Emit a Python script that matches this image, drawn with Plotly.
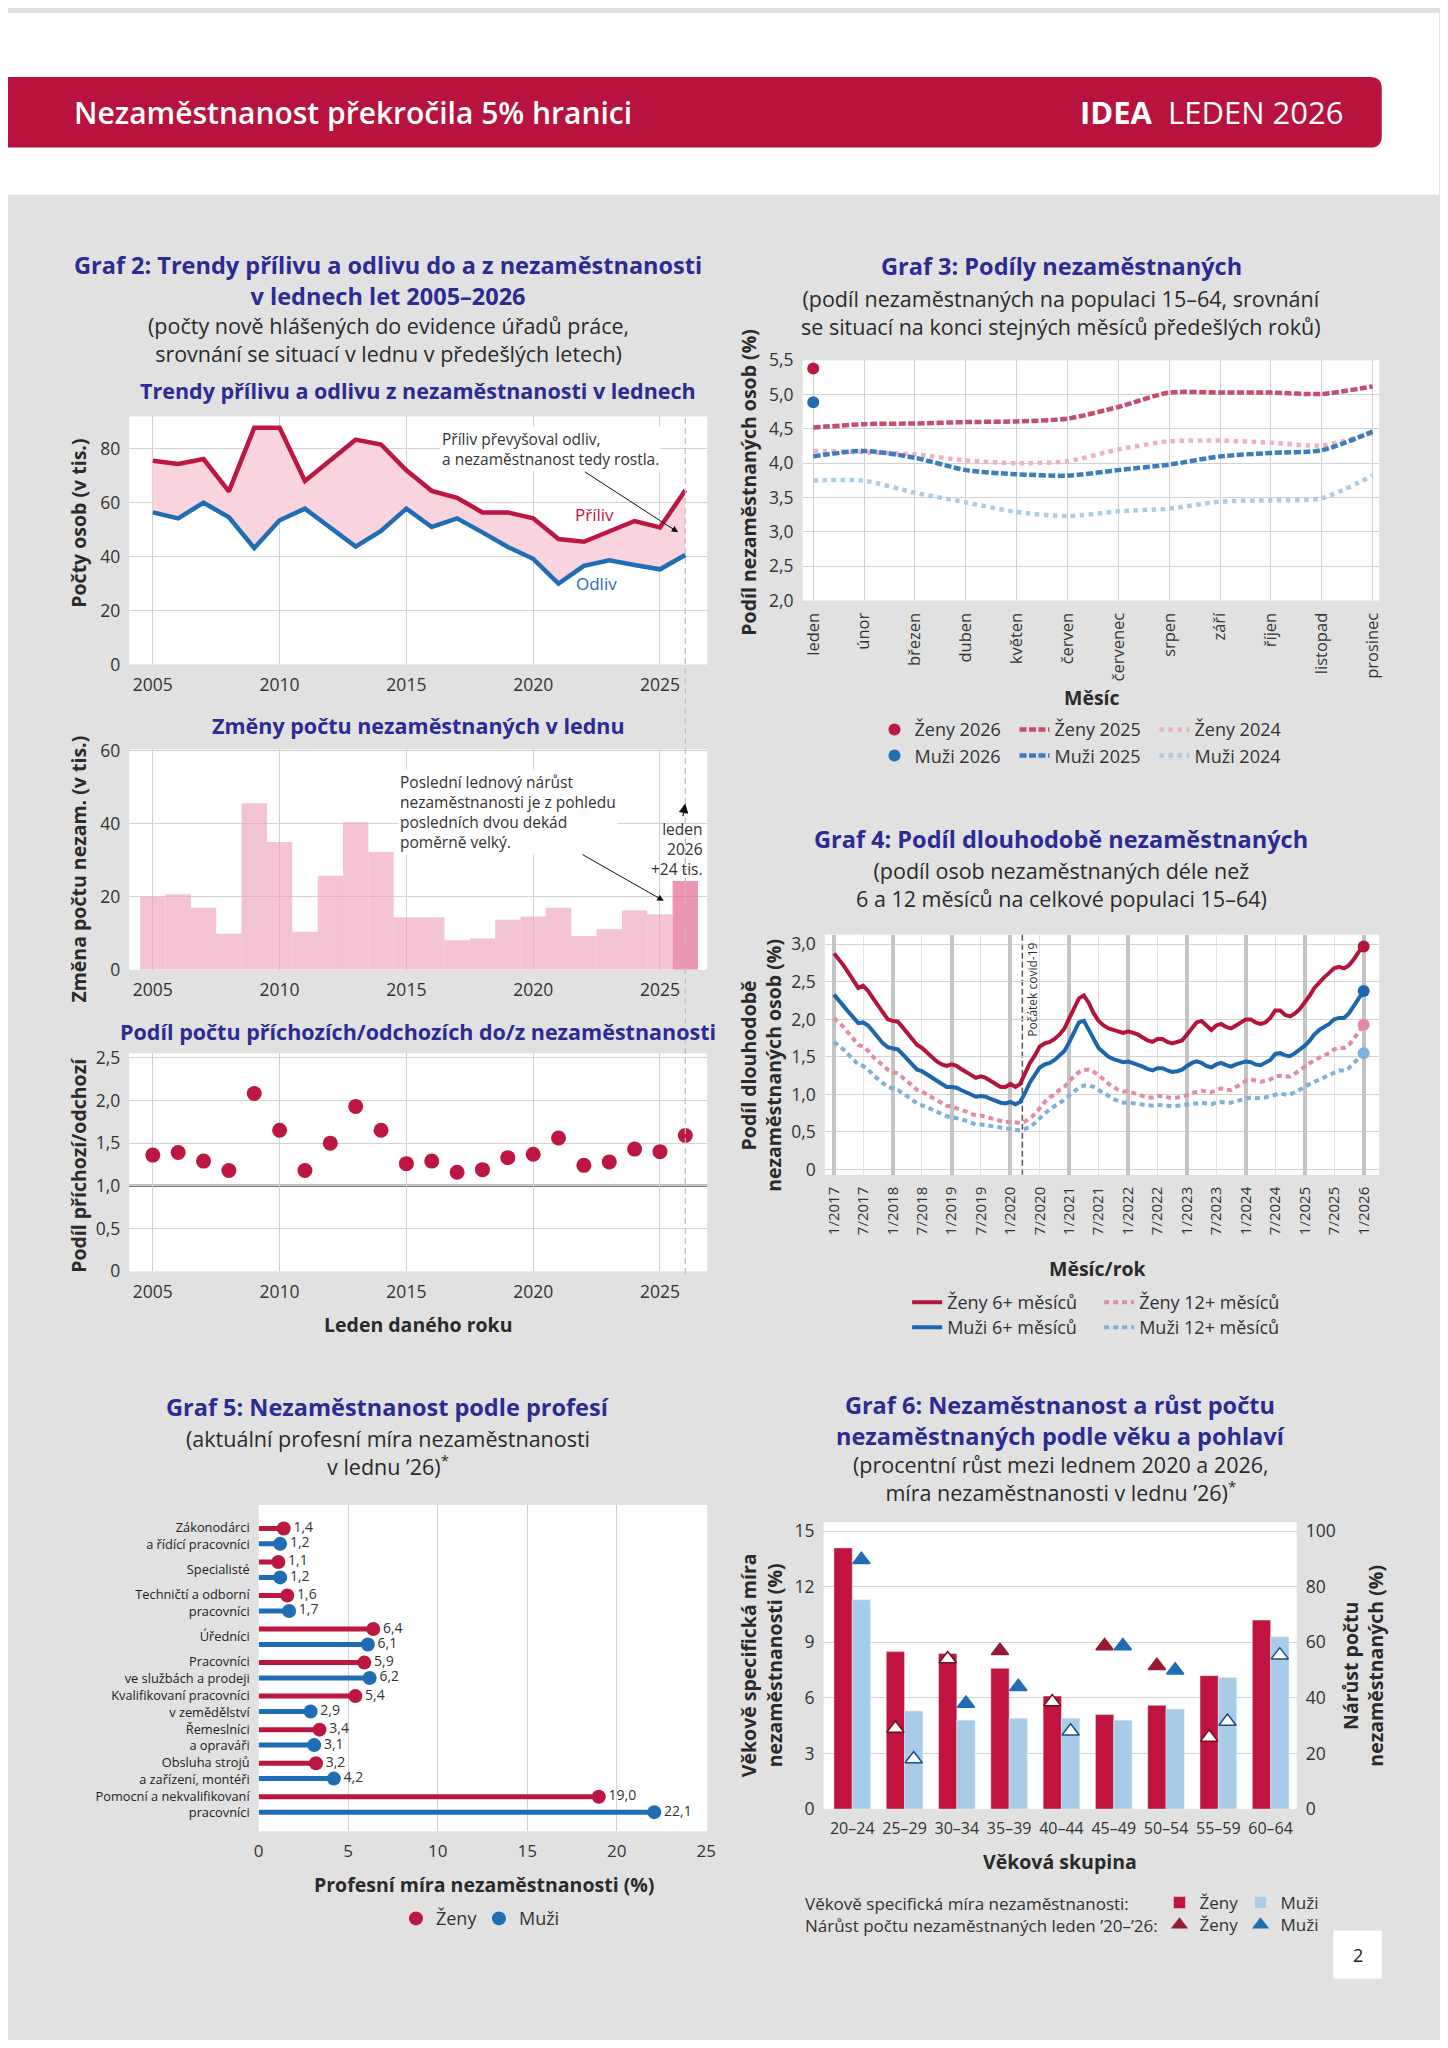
import plotly.graph_objects as go
from datetime import date

# ---------------- Graf 2 data ----------------
years = list(range(2005, 2027))
year_ticks = [2005, 2010, 2015, 2020, 2025]
inflow = [75.6, 74.4, 76.2, 64.2, 87.8, 87.8, 68.1, 75.7, 83.4, 81.6, 72.0, 64.4,
          61.8, 56.4, 56.4, 54.2, 46.5, 45.5, 49.5, 53.2, 50.8, 64.6]
outflow = [56.4, 54.2, 60.0, 54.6, 43.2, 53.5, 57.8, 50.8, 43.7, 49.5, 57.8, 51.0,
           54.2, 49.0, 43.6, 39.2, 30.0, 36.6, 38.6, 36.9, 35.3, 40.6]
jan_change = [20.0, 20.7, 17.0, 9.9, 45.6, 35.0, 10.4, 25.8, 40.4, 32.3, 14.4, 14.4,
              8.1, 8.6, 13.7, 14.6, 17.0, 9.3, 11.1, 16.3, 15.2, 24.3]
in_out_ratio = [1.36, 1.39, 1.29, 1.18, 2.08, 1.65, 1.18, 1.50, 1.93, 1.65, 1.26, 1.29,
                1.16, 1.19, 1.33, 1.37, 1.56, 1.24, 1.28, 1.43, 1.40, 1.59]
ratio_ticks = [0, 0.5, 1.0, 1.5, 2.0, 2.5]
ratio_ticktext = ["0", "0,5", "1,0", "1,5", "2,0", "2,5"]

# ---------------- Graf 3 data ----------------
months_cz = ["leden", "únor", "březen", "duben", "květen", "červen", "červenec",
             "srpen", "září", "říjen", "listopad", "prosinec"]
women_2026 = [5.38]
men_2026 = [4.89]
women_2025 = [4.52, 4.57, 4.58, 4.60, 4.61, 4.65, 4.82, 5.03, 5.03, 5.03, 5.01, 5.12]
women_2024 = [4.18, 4.16, 4.13, 4.04, 4.00, 4.03, 4.20, 4.32, 4.33, 4.30, 4.26, 4.44]
men_2025 = [4.10, 4.18, 4.08, 3.90, 3.84, 3.82, 3.90, 3.98, 4.10, 4.15, 4.19, 4.46]
men_2024 = [3.75, 3.745, 3.57, 3.43, 3.29, 3.23, 3.30, 3.34, 3.44, 3.46, 3.49, 3.82]

# ---------------- Graf 4 data (monthly, 1/2017 - 1/2026) ----------------
women_6m = [2.88, 2.80, 2.72, 2.62, 2.52, 2.42, 2.45, 2.38, 2.28, 2.18, 2.08, 2.00,
            1.98, 1.97, 1.90, 1.82, 1.74, 1.66, 1.62, 1.56, 1.50, 1.44, 1.40, 1.38,
            1.40, 1.38, 1.34, 1.30, 1.26, 1.22, 1.24, 1.22, 1.18, 1.14, 1.10, 1.10,
            1.14, 1.10, 1.14, 1.28, 1.42, 1.52, 1.64, 1.68, 1.70, 1.74, 1.80, 1.88,
            2.02, 2.16, 2.28, 2.32, 2.22, 2.08, 1.98, 1.92, 1.88, 1.86, 1.84, 1.82,
            1.84, 1.82, 1.80, 1.76, 1.72, 1.70, 1.74, 1.74, 1.70, 1.68, 1.70, 1.72,
            1.80, 1.88, 1.96, 1.98, 1.92, 1.86, 1.92, 1.94, 1.90, 1.88, 1.92, 1.96,
            2.00, 2.00, 1.96, 1.94, 1.96, 2.02, 2.12, 2.12, 2.06, 2.04, 2.08, 2.14,
            2.22, 2.32, 2.42, 2.50, 2.56, 2.62, 2.68, 2.70, 2.68, 2.72, 2.80, 2.90,
            2.97]
men_6m = [2.33, 2.26, 2.18, 2.10, 2.02, 1.95, 1.96, 1.92, 1.84, 1.76, 1.68, 1.63,
          1.62, 1.60, 1.54, 1.47, 1.40, 1.33, 1.31, 1.27, 1.22, 1.18, 1.14, 1.10,
          1.10, 1.09, 1.06, 1.03, 1.00, 0.97, 0.98, 0.97, 0.94, 0.91, 0.89, 0.88,
          0.90, 0.87, 0.90, 1.02, 1.16, 1.26, 1.36, 1.40, 1.42, 1.46, 1.52, 1.58,
          1.70, 1.84, 1.96, 1.98, 1.86, 1.72, 1.62, 1.56, 1.50, 1.47, 1.45, 1.43,
          1.44, 1.42, 1.40, 1.37, 1.34, 1.32, 1.35, 1.35, 1.32, 1.30, 1.31, 1.33,
          1.38, 1.42, 1.44, 1.42, 1.38, 1.36, 1.40, 1.42, 1.39, 1.37, 1.40, 1.42,
          1.44, 1.43, 1.40, 1.39, 1.42, 1.46, 1.54, 1.55, 1.52, 1.51, 1.55, 1.60,
          1.65, 1.72, 1.80, 1.86, 1.90, 1.94, 2.00, 2.02, 2.02, 2.08, 2.18, 2.28,
          2.38]
women_12m = [2.02, 1.96, 1.90, 1.82, 1.74, 1.66, 1.64, 1.58, 1.50, 1.44, 1.38, 1.33,
             1.30, 1.28, 1.23, 1.18, 1.12, 1.06, 1.04, 1.00, 0.96, 0.92, 0.88, 0.85,
             0.84, 0.82, 0.80, 0.77, 0.74, 0.72, 0.72, 0.70, 0.68, 0.66, 0.64, 0.63,
             0.64, 0.63, 0.62, 0.64, 0.68, 0.74, 0.82, 0.90, 0.96, 1.00, 1.06, 1.10,
             1.18, 1.24, 1.30, 1.33, 1.33, 1.30, 1.26, 1.20, 1.14, 1.10, 1.06, 1.04,
             1.04, 1.02, 1.00, 0.98, 0.96, 0.96, 0.98, 0.98, 0.96, 0.95, 0.96, 0.97,
             0.99, 1.02, 1.04, 1.05, 1.04, 1.03, 1.06, 1.08, 1.06, 1.06, 1.10, 1.14,
             1.18, 1.20, 1.18, 1.17, 1.18, 1.20, 1.24, 1.25, 1.24, 1.24, 1.28, 1.32,
             1.37, 1.42, 1.46, 1.49, 1.52, 1.55, 1.60, 1.62, 1.62, 1.66, 1.74, 1.84,
             1.93]
men_12m = [1.70, 1.65, 1.60, 1.53, 1.46, 1.40, 1.38, 1.33, 1.26, 1.20, 1.15, 1.10,
           1.08, 1.06, 1.02, 0.98, 0.93, 0.88, 0.86, 0.83, 0.80, 0.77, 0.74, 0.71,
           0.70, 0.69, 0.67, 0.65, 0.62, 0.60, 0.60, 0.59, 0.57, 0.56, 0.55, 0.54,
           0.54, 0.53, 0.52, 0.54, 0.57, 0.62, 0.69, 0.75, 0.80, 0.84, 0.89, 0.93,
           0.99, 1.04, 1.09, 1.12, 1.12, 1.10, 1.06, 1.02, 0.97, 0.94, 0.91, 0.89,
           0.89, 0.88, 0.87, 0.86, 0.85, 0.85, 0.86, 0.86, 0.85, 0.84, 0.85, 0.86,
           0.87, 0.88, 0.89, 0.89, 0.88, 0.87, 0.89, 0.90, 0.89, 0.89, 0.91, 0.93,
           0.95, 0.96, 0.95, 0.95, 0.96, 0.98, 1.00, 1.01, 1.00, 1.00, 1.03, 1.06,
           1.10, 1.14, 1.17, 1.20, 1.23, 1.26, 1.30, 1.32, 1.32, 1.35, 1.42, 1.49,
           1.55]
lt_ticks = [0, 0.5, 1.0, 1.5, 2.0, 2.5, 3.0]
lt_ticktext = ["0", "0,5", "1,0", "1,5", "2,0", "2,5", "3,0"]
covid_start = date(2020, 3, 15)

# ---------------- Graf 5 data ----------------
professions = ["Zákonodárci<br>a řídící pracovníci", "Specialisté",
               "Techničtí a odborní<br>pracovníci", "Úředníci",
               "Pracovníci<br>ve službách a prodeji",
               "Kvalifikovaní pracovníci<br>v zemědělství", "Řemeslníci<br>a opraváři",
               "Obsluha strojů<br>a zařízení, montéři",
               "Pomocní a nekvalifikovaní<br>pracovníci"]
prof_women = [1.4, 1.1, 1.6, 6.4, 5.9, 5.4, 3.4, 3.2, 19.0]
prof_men = [1.2, 1.2, 1.7, 6.1, 6.2, 2.9, 3.1, 4.2, 22.1]

# ---------------- Graf 6 data ----------------
age_groups = ["20–24", "25–29", "30–34", "35–39", "40–44", "45–49", "50–54", "55–59", "60–64"]
rate_women = [14.1, 8.5, 8.4, 7.6, 6.1, 5.1, 5.6, 7.2, 10.2]
rate_men = [11.3, 5.3, 4.8, 4.9, 4.9, 4.8, 5.4, 7.1, 9.3]
growth_women = [None, 29.0, 54.0, 57.0, 38.5, 58.7, 51.6, 25.8, None]
growth_men = [89.7, 18.0, 38.0, 44.0, 28.0, 58.7, 50.0, 31.5, 55.4]

# ---------------- styling helpers ----------------
FONT = "Open Sans"
DW, DH = 1109.0, 1568.0          # layout grid the positions below are given in
W, H = 1448, 2048
OX, OY, SC = 5.2, 11.6, 0.989    # page framing of the photographed figure
RED = "#bc1742"
BLUE = "#1f6db4"
TITLE_BLUE = "#2b2b93"
BG_GRAY = "#e1e1e1"
GRID = "#d2d2d2"
TXT = "#2a2a2a"


def px(x):
    return ((x * W / DW) - OX) / SC / W


def py(y):
    return 1 - ((y * H / DH) - OY) / SC / H


def dom_x(a, b):
    return [px(a), px(b)]


def dom_y(top, bottom):
    return [py(bottom), py(top)]


fig = go.Figure()

# ---- Graf 2 top: inflow / outflow ----
fig.add_trace(go.Scatter(x=years, y=outflow, mode="lines", line=dict(width=0),
                         showlegend=False, hoverinfo="skip", xaxis="x", yaxis="y"))
fig.add_trace(go.Scatter(x=years, y=inflow, mode="lines", line=dict(width=0),
                         fill="tonexty", fillcolor="#f9d3dd",
                         showlegend=False, hoverinfo="skip", xaxis="x", yaxis="y"))
fig.add_trace(go.Scatter(x=years, y=inflow, name="Příliv", mode="lines",
                         line=dict(color=RED, width=4.5), showlegend=False,
                         xaxis="x", yaxis="y"))
fig.add_trace(go.Scatter(x=years, y=outflow, name="Odliv", mode="lines",
                         line=dict(color=BLUE, width=4.5), showlegend=False,
                         xaxis="x", yaxis="y"))

# ---- Graf 2 middle: January change bars ----
bar_colors = ["rgba(238,160,185,0.62)"] * (len(years) - 1) + ["rgba(230,110,148,0.72)"]
fig.add_trace(go.Bar(x=years, y=jan_change, width=1,
                     marker=dict(color=bar_colors, line=dict(width=0)),
                     showlegend=False, xaxis="x2", yaxis="y2"))

# ---- Graf 2 bottom: ratio dots ----
fig.add_trace(go.Scatter(x=years, y=in_out_ratio, mode="markers",
                         marker=dict(color=RED, size=15), showlegend=False,
                         xaxis="x3", yaxis="y3"))

# ---- Graf 3 ----
g3_lines = [
    (women_2025, "Ženy 2025", "#c64d6c", "7px,2.5px", "legend", 2),
    (women_2024, "Ženy 2024", "#efb1c2", "dot", "legend", 3),
    (men_2025, "Muži 2025", "#3b7dbd", "7px,2.5px", "legend2", 2),
    (men_2024, "Muži 2024", "#abcae6", "dot", "legend2", 3),
]
for vals, name, col, dash, leg, rank in g3_lines:
    fig.add_trace(go.Scatter(x=months_cz[:len(vals)], y=vals, name=name, mode="lines",
                             line=dict(color=col, width=4.5, dash=dash, shape="spline",
                                       smoothing=0.7),
                             legend=leg, legendrank=rank, xaxis="x4", yaxis="y4"))
fig.add_trace(go.Scatter(x=months_cz[:len(women_2026)], y=women_2026, name="Ženy 2026",
                         mode="markers", marker=dict(color=RED, size=12),
                         legend="legend", legendrank=1, xaxis="x4", yaxis="y4"))
fig.add_trace(go.Scatter(x=months_cz[:len(men_2026)], y=men_2026, name="Muži 2026",
                         mode="markers", marker=dict(color=BLUE, size=12),
                         legend="legend2", legendrank=1, xaxis="x4", yaxis="y4"))

# ---- Graf 4 ----
lt_dates = [date(2017 + i // 12, 1 + i % 12, 1) for i in range(len(women_6m))]
lt_tickvals = lt_dates[::6]
lt_ticklabels = [f"{d.month}/{d.year}" for d in lt_tickvals]
g4_lines = [
    (women_12m, "Ženy 12+ měsíců", "#e58aa3", "5px,4px", "legend3", 2),
    (men_12m, "Muži 12+ měsíců", "#7eb0db", "5px,4px", "legend4", 2),
    (women_6m, "Ženy 6+ měsíců", "#b3143c", "solid", "legend3", 1),
    (men_6m, "Muži 6+ měsíců", "#1c66ad", "solid", "legend4", 1),
]
for vals, name, col, dash, leg, rank in g4_lines:
    fig.add_trace(go.Scatter(x=lt_dates, y=vals, name=name, mode="lines",
                             line=dict(color=col, width=4, dash=dash),
                             legend=leg, legendrank=rank, xaxis="x5", yaxis="y5"))
    fig.add_trace(go.Scatter(x=lt_dates[-1:], y=vals[-1:], mode="markers",
                             marker=dict(color=col, size=12), showlegend=False,
                             hoverinfo="skip", xaxis="x5", yaxis="y5"))
# helper axis for the thicker January grid lines
fig.add_trace(go.Scatter(x=lt_dates[:1], y=[None], mode="markers", showlegend=False,
                         hoverinfo="skip", xaxis="x6", yaxis="y5"))

# ---- Graf 5 ----
off = 0.23
for vals, name, col, sign in [(prof_women, "Ženy", RED, -1), (prof_men, "Muži", BLUE, 1)]:
    ys = [i + sign * off for i in range(len(vals))]
    sx, sy = [], []
    for v, yy in zip(vals, ys):
        sx += [0, v, None]
        sy += [yy, yy, None]
    fig.add_trace(go.Scatter(x=sx, y=sy, mode="lines", line=dict(color=col, width=5),
                             showlegend=False, hoverinfo="skip", xaxis="x7", yaxis="y7"))
    fig.add_trace(go.Scatter(x=vals, y=ys, name=name, mode="markers+text",
                             marker=dict(color=col, size=14),
                             texttemplate="%{x:.1f}", textposition="middle right",
                             textfont=dict(size=14, color="#333", family=FONT),
                             legend="legend5", xaxis="x7", yaxis="y7"))

# ---- Graf 6 ----
age_idx = list(range(len(age_groups)))
fig.add_trace(go.Bar(x=age_idx, y=rate_women, name="Ženy", marker=dict(color="#c0143f"),
                     legend="legend6", xaxis="x8", yaxis="y8"))
fig.add_trace(go.Bar(x=age_idx, y=rate_men, name="Muži", marker=dict(color="#a8cce8"),
                     legend="legend6", xaxis="x8", yaxis="y8"))
scale_ratio = 100.0 / 15.0
for vals, bars, name, col, edge, sign in [
        (growth_women, rate_women, "Ženy", "#951a34", "#6e0f24", -1),
        (growth_men, rate_men, "Muži", BLUE, "#174f86", 1)]:
    inside = [g is not None and g / scale_ratio < b for g, b in zip(vals, bars)]
    fills = ["white" if s else col for s in inside]
    lines = [edge if s else col for s in inside]
    fig.add_trace(go.Scatter(x=[i + sign * 0.175 for i in age_idx], y=vals, mode="markers",
                             marker=dict(symbol="triangle-up", size=15, color=fills,
                                         line=dict(color=lines, width=1.5)),
                             showlegend=False, xaxis="x8", yaxis="y9"))
    fig.add_trace(go.Scatter(x=[None], y=[None], name=name, mode="markers",
                             marker=dict(symbol="triangle-up", size=15, color=col),
                             legend="legend7", xaxis="x8", yaxis="y9"))

# ---------------- axes ----------------
tick17 = dict(size=17.5, color="#333", family=FONT)
base = dict(showgrid=True, gridcolor=GRID, gridwidth=1, zeroline=False, showline=False,
            ticks="", fixedrange=True, ticklabelstandoff=8)
year_text = [str(y) for y in year_ticks]
d2x = dom_x(99, 541)
xr2 = [2004.07, 2026.86]

fig.update_layout(
    xaxis=dict(base, domain=d2x, anchor="y", range=xr2, tickvals=year_ticks,
               ticktext=year_text, tickfont=tick17),
    yaxis=dict(base, domain=dom_y(318, 508), anchor="x", range=[0, 92],
               tickvals=[0, 20, 40, 60, 80], tickfont=tick17),
    xaxis2=dict(base, domain=d2x, anchor="y2", range=xr2, tickvals=year_ticks,
                ticktext=year_text, tickfont=tick17),
    yaxis2=dict(base, domain=dom_y(573, 742), anchor="x2", range=[0, 60.4],
                tickvals=[0, 20, 40, 60], tickfont=tick17),
    xaxis3=dict(base, domain=d2x, anchor="y3", range=xr2, tickvals=year_ticks,
                ticktext=year_text, tickfont=tick17),
    yaxis3=dict(base, domain=dom_y(806, 973), anchor="x3", range=[0, 2.55],
                tickvals=ratio_ticks, ticktext=ratio_ticktext, tickfont=tick17),
    xaxis4=dict(base, domain=dom_x(614, 1055), anchor="y4", type="category",
                range=[-0.21, 11.13], tickangle=-90,
                tickfont=dict(size=16.5, color="#333", family=FONT)),
    yaxis4=dict(base, domain=dom_y(275, 459), anchor="x4", range=[2.0, 5.5], dtick=0.5,
                tickformat=".1f", tickfont=tick17),
    xaxis5=dict(base, domain=dom_x(631, 1055), anchor="y5", type="date",
                range=["2016-11-05", "2026-04-07"], tickvals=lt_tickvals,
                ticktext=lt_ticklabels, tickangle=-90,
                tickfont=dict(size=15, color="#333", family=FONT), gridcolor="#e2e2e2"),
    xaxis6=dict(domain=dom_x(631, 1055), anchor="y5", overlaying="x5", type="date",
                range=["2016-11-05", "2026-04-07"], dtick="M12", tick0="2017-01-01",
                showgrid=True, gridcolor="#c4c4c4", gridwidth=3.5, showticklabels=False,
                zeroline=False, showline=False, ticks="", fixedrange=True),
    yaxis5=dict(base, domain=dom_y(715, 899), anchor="x5", range=[-0.07, 3.13],
                tickvals=lt_ticks, ticktext=lt_ticktext, tickfont=tick17),
    xaxis7=dict(base, domain=dom_x(198, 541), anchor="y7", range=[0, 25.05],
                tickvals=[0, 5, 10, 15, 20, 25],
                tickfont=dict(size=17, color="#333", family=FONT)),
    yaxis7=dict(base, domain=dom_y(1152, 1402), anchor="x7", range=[8.8, -0.93],
                tickvals=list(range(len(professions))), ticktext=professions, showgrid=False,
                tickfont=dict(size=12.8, color="#222", family=FONT)),
    xaxis8=dict(base, domain=dom_x(630, 992), anchor="y8", range=[-0.55, 8.5],
                tickvals=age_idx, ticktext=age_groups, showgrid=False,
                tickfont=dict(size=16, color="#333", family=FONT)),
    yaxis8=dict(base, domain=dom_y(1165, 1385), anchor="x8", range=[0, 15.5], dtick=3,
                tickfont=tick17),
    yaxis9=dict(base, anchor="x8", overlaying="y8", side="right", range=[0, 103.33],
                dtick=20, showgrid=False, tickfont=tick17),
)


def legend_cfg(x, y, entrywidth, size=18):
    return dict(x=px(x), y=py(y), xanchor="left", yanchor="middle", orientation="h",
                entrywidth=entrywidth, entrywidthmode="pixels", bgcolor="rgba(0,0,0,0)",
                borderwidth=0, itemwidth=30, traceorder="normal",
                font=dict(size=size, color="#333", family=FONT))


fig.update_layout(
    legend=legend_cfg(669, 558, 95),
    legend2=legend_cfg(669, 578, 95),
    legend3=legend_cfg(694, 997, 147),
    legend4=legend_cfg(694, 1016, 147),
    legend5=legend_cfg(303, 1469, 38),
    legend6=legend_cfg(887, 1457, 36, 17),
    legend7=legend_cfg(887, 1474, 36, 17),
)

# ---------------- shapes ----------------
rx, ry = 9 / DW, 9 / DH
x1, yt, yb = px(1057), py(58), py(112)
header_path = (f"M 0,{yt} L {x1 - rx},{yt} Q {x1},{yt} {x1},{yt - ry} "
               f"L {x1},{yb + ry} Q {x1},{yb} {x1 - rx},{yb} L 0,{yb} Z")
shapes = [
    dict(type="rect", xref="paper", yref="paper", x0=0, x1=1, y0=py(148), y1=1,
         fillcolor="white", line=dict(width=0), layer="below"),
    dict(type="path", xref="paper", yref="paper", path=header_path,
         fillcolor="#b8123f", line=dict(width=0), layer="above"),
    dict(type="rect", xref="paper", yref="paper", x0=px(1020), x1=px(1057),
         y0=py(1515), y1=py(1478), fillcolor="white", line=dict(width=0), layer="below"),
    dict(type="line", xref="x", yref="paper", x0=years[-1], x1=years[-1],
         y0=py(975), y1=py(318), line=dict(color="#bdbdbd", width=1.2, dash="6px,4px"),
         layer="above"),
    dict(type="line", xref="x3 domain", yref="y3", x0=0, x1=1, y0=1.0, y1=1.0,
         line=dict(color="#777777", width=2.5), layer="below"),
    dict(type="line", xref="x5", yref="y5 domain", x0=covid_start, x1=covid_start,
         y0=0, y1=1, line=dict(color="#555555", width=1.5, dash="6px,3px"), layer="below"),
]

# ---------------- annotations ----------------
ann = []


def note(text, x, y, size=16, color=TXT, xanchor="center", yanchor="middle",
         align="center", **kw):
    d = dict(text=text, x=px(x), y=py(y), xref="paper", yref="paper", xanchor=xanchor,
             yanchor=yanchor, align=align, showarrow=False,
             font=dict(size=size, color=color, family=FONT))
    d.update(kw)
    ann.append(d)


# header
note("Nezaměstnanost překročila 5% hranici", 55, 85, xanchor="left",
     font=dict(size=30, color="white", family=FONT, weight=600))
note("<b>IDEA</b>  LEDEN 2026", 1030, 85, size=31, color="white", xanchor="right")
note("2", 1038.5, 1497, size=18, color="#222")

# Graf 2
note("<b>Graf 2: Trendy přílivu a odlivu do a z nezaměstnanosti<br>v lednech let 2005–2026</b>",
     297, 213.5, size=23.5, color=TITLE_BLUE)
note("(počty nově hlášených do evidence úřadů práce,<br>srovnání se situací v lednu v předešlých letech)",
     297, 259, size=21.5)
note("<b>Trendy přílivu a odlivu z nezaměstnanosti v lednech</b>", 320, 298, size=21.5,
     color=TITLE_BLUE)
note("<b>Změny počtu nezaměstnaných v lednu</b>", 320, 555, size=21.5, color=TITLE_BLUE)
note("<b>Podíl počtu příchozích/odchozích do/z nezaměstnanosti</b>", 320, 789, size=21.5,
     color=TITLE_BLUE)
note("<b>Počty osob (v tis.)</b>", 60, 400, size=19.5, textangle=-90)
note("<b>Změna počtu nezam. (v tis.)</b>", 60, 665, size=19.5, textangle=-90)
note("<b>Podíl příchozí/odchozí</b>", 60, 892, size=19.5, textangle=-90)
note("<b>Leden daného roku</b>", 320, 1014, size=19.5)

ann.append(dict(text="Příliv převyšoval odliv,<br>a nezaměstnanost tedy rostla.",
                align="left", bgcolor="white", x=2025.72, y=49, xref="x", yref="y",
                ax=2020.67, ay=79.8, axref="x", ayref="y", showarrow=True, arrowhead=2,
                arrowsize=1.3, arrowwidth=1, arrowcolor="#111",
                font=dict(size=15.5, color="#333", family=FONT)))
ann.append(dict(x=2022.4, y=55.8, xref="x", yref="y", text="Příliv", showarrow=False,
                font=dict(size=17, color=RED, family=FONT)))
ann.append(dict(x=2022.5, y=30.0, xref="x", yref="y", text="Odliv", showarrow=False,
                font=dict(size=17, color=BLUE, family=FONT)))
ann.append(dict(text="Poslední lednový nárůst<br>nezaměstnanosti je z pohledu<br>"
                     "posledních dvou dekád<br>poměrně velký.",
                align="left", bgcolor="white", x=2025.15, y=18.9, xref="x2", yref="y2",
                ax=2019.0, ay=43.2, axref="x2", ayref="y2", showarrow=True, arrowhead=2,
                arrowsize=1.3, arrowwidth=1, arrowcolor="#111",
                font=dict(size=15.5, color="#333", family=FONT)))
ann.append(dict(text="leden<br>2026<br>+24 tis.", align="right", x=years[-1], y=45.6,
                xref="x2", yref="y2", ax=2025.67, ay=33.2, axref="x2", ayref="y2",
                showarrow=True, arrowhead=2, arrowsize=1.6, arrowwidth=1.2,
                arrowcolor="#111", font=dict(size=15.5, color="#333", family=FONT)))

# Graf 3
note("<b>Graf 3: Podíly nezaměstnaných</b>", 812, 203, size=23.5, color=TITLE_BLUE)
note("(podíl nezaměstnaných na populaci 15–64, srovnání<br>se situací na konci stejných měsíců předešlých roků)",
     812, 238, size=21.5)
note("<b>Podíl nezaměstnaných osob (%)</b>", 573, 368, size=19.5, textangle=-90)
note("<b>Měsíc</b>", 835, 533, size=19.5)

# Graf 4
note("<b>Graf 4: Podíl dlouhodobě nezaměstnaných</b>", 812, 642, size=23.5, color=TITLE_BLUE)
note("(podíl osob nezaměstnaných déle než<br>6 a 12 měsíců na celkové populaci 15–64)",
     812, 676.5, size=21.5)
note("<b>Podíl dlouhodobě<br>nezaměstnaných osob (%)</b>", 582, 815, size=19.5, textangle=-90)
note("<b>Měsíc/rok</b>", 840, 971, size=19.5)
ann.append(dict(x=covid_start, y=py(757), xref="x5", yref="paper", xshift=10,
                text="Počátek covid-19", textangle=-90, showarrow=False,
                font=dict(size=12, color="#333", family=FONT)))

# Graf 5
note("<b>Graf 5: Nezaměstnanost podle profesí</b>", 297, 1077, size=23.5, color=TITLE_BLUE)
note("(aktuální profesní míra nezaměstnanosti<br>v lednu ’26)<sup>*</sup>", 297, 1111.5,
     size=21.5)
note("<b>Profesní míra nezaměstnanosti (%)</b>", 370, 1443, size=19.5)

# Graf 6
note("<b>Graf 6: Nezaměstnanost a růst počtu<br>nezaměstnaných podle věku a pohlaví</b>",
     812, 1087, size=23.5, color=TITLE_BLUE)
note("(procentní růst mezi lednem 2020 a 2026,<br>míra nezaměstnanosti v lednu ’26)<sup>*</sup>",
     812, 1132, size=21.5)
note("<b>Věkově specifická míra<br>nezaměstnanosti (%)</b>", 582, 1275, size=19.5,
     textangle=-90)
note("<b>Nárůst počtu<br>nezaměstnaných (%)</b>", 1042, 1275, size=19.5, textangle=-90)
note("<b>Věková skupina</b>", 811, 1425, size=19.5)
note("Věkově specifická míra nezaměstnanosti:", 614, 1457, size=17, color="#333",
     xanchor="left")
note("Nárůst počtu nezaměstnaných leden ’20–’26:", 614, 1474, size=17, color="#333",
     xanchor="left")

# figure size comes from the page container (1448 x 2048); the container
# cancels the default 8px body margin so the figure starts at the page corner
fig.update_layout(
    autosize=True, margin=dict(l=0, r=0, t=0, b=0, pad=0),
    paper_bgcolor=BG_GRAY, plot_bgcolor="white",
    font=dict(family=FONT, color=TXT),
    separators=", ", barmode="group", bargap=0.3, bargroupgap=0,
    hovermode=False, shapes=shapes, annotations=ann,
)

fig.write_html("out.html",
               config={"displayModeBar": False, "responsive": True},
               default_width=f"{W}px; margin:-8px -8px -8px -8px",
               default_height=f"{H}px")
